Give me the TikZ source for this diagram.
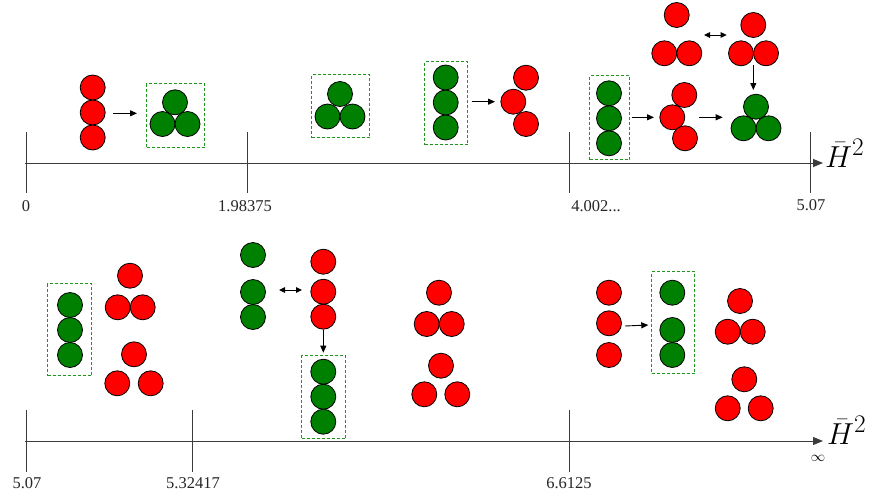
\documentclass[tikz,border=0pt]{standalone}
\usepackage{fontspec}
\setmainfont{Liberation Serif}
\usetikzlibrary{arrows.meta}
\definecolor{dgreen}{RGB}{0,128,0}
\definecolor{boxgreen}{RGB}{30,150,30}
\definecolor{axisgray}{RGB}{60,60,60}
\newcommand\myball[4]{\node[#1] (#2) at (#3,#4) {};}
\newcommand\mybox[5]{\node[gbox,minimum width=#4pt-#2pt,minimum height=#5pt-#3pt] (#1) at ({(#2+#4)/2},{(#3+#5)/2}) {};}
\newcommand\hbartwo{\scalebox{1.22}{$\bar{H}^2$}}
\begin{document}
\begin{tikzpicture}[x=1pt,y=-1pt,
 rball/.style={circle,draw=black,fill=red,minimum size=25pt,inner sep=0pt,line width=0.8pt},
 gball/.style={rball,fill=dgreen},
 gbox/.style={draw=boxgreen,dash pattern=on 3pt off 2pt,line width=1.3pt,inner sep=0pt,rectangle},
 conn/.style={-{Triangle[length=7pt,width=6pt]},line width=0.9pt},
 dconn/.style={{Triangle[length=6pt,width=5.5pt]}-{Triangle[length=6pt,width=5.5pt]},line width=0.9pt},
 axisline/.style={axisgray,line width=1pt,-{Triangle[length=10pt,width=8pt]}},
 tickline/.style={axisgray,line width=1pt},
 lab/.style={font=\fontsize{16.5}{18}\selectfont,inner sep=0pt,text=black!85},
 hlab/.style={font=\fontsize{24.88}{28}\selectfont,inner sep=0pt,anchor=base west}
]
\useasboundingbox[fill=white] (0,0) rectangle (869,496);

% ===== top axis =====
\coordinate (ta0) at (25,163);
\coordinate (ta1) at (823,163);
\draw[axisline] (ta0) -- (ta1);
\foreach \x/\n in {26/t1,247/t2,569/t3,810/t4}{
  \coordinate (\n top) at (\x,132);
  \coordinate (\n bot) at (\x,193);
  \draw[tickline] (\n top) -- (\n bot);
}
\node[lab] (l0) at (26,206) {0};
\node[lab] (l1) at (245,206) {1.98375};
\node[lab] (l2) at (596,206) {4.002...};
\node[lab] (l3) at (811,205) {5.07};
\node[hlab] (h1) at (825,167) {\hbartwo};

% group 1
\myball{rball}{a1}{92.7}{87.5}
\myball{rball}{a2}{92.7}{112.5}
\myball{rball}{a3}{92.7}{137.5}
\coordinate (c1s) at (113,113.3); \coordinate (c1e) at (137,113.3);
\draw[conn] (c1s) -- (c1e);
\mybox{b1}{146.5}{83.5}{204.5}{147.5}
\myball{gball}{b1a}{175}{102.3}
\myball{gball}{b1b}{162.5}{124}
\myball{gball}{b1c}{187.5}{124}

% group 2
\mybox{b2}{311.5}{74.5}{369.5}{137.5}
\myball{gball}{b2a}{340}{94}
\myball{gball}{b2b}{327.5}{116.5}
\myball{gball}{b2c}{352.5}{116.5}

% group 3
\mybox{b3}{424.5}{61.5}{467.5}{144.5}
\myball{gball}{b3a}{445.7}{77.5}
\myball{gball}{b3b}{445.7}{102.5}
\myball{gball}{b3c}{445.7}{127.5}
\coordinate (c2s) at (471.7,101.7); \coordinate (c2e) at (495,101.7);
\draw[conn] (c2s) -- (c2e);
\myball{rball}{d1}{526}{77.7}
\myball{rball}{d2}{513.3}{101.7}
\myball{rball}{d3}{526}{124}

% group 4
\myball{rball}{e1}{676.7}{15}
\myball{rball}{e2}{664.3}{53.3}
\myball{rball}{e3}{689.3}{53.3}
\coordinate (c3s) at (704,35); \coordinate (c3e) at (726.7,35);
\draw[dconn] (c3s) -- (c3e);
\myball{rball}{f1}{753.3}{25}
\myball{rball}{f2}{741}{53.3}
\myball{rball}{f3}{766}{53.3}
\coordinate (c4s) at (753.3,65); \coordinate (c4e) at (753.3,90);
\draw[conn] (c4s) -- (c4e);
\mybox{b4}{589.5}{75.5}{629.5}{159.5}
\myball{gball}{b4a}{609}{93.3}
\myball{gball}{b4b}{609}{118.3}
\myball{gball}{b4c}{609}{143.3}
\coordinate (c5s) at (631.7,117.3); \coordinate (c5e) at (654,117.3);
\draw[conn] (c5s) -- (c5e);
\myball{rball}{g1}{684.3}{95}
\myball{rball}{g2}{672.3}{117.3}
\myball{rball}{g3}{685}{138.3}
\coordinate (c6s) at (699.3,117.3); \coordinate (c6e) at (722.7,117.3);
\draw[conn] (c6s) -- (c6e);
\myball{gball}{h1a}{756}{106.7}
\myball{gball}{h1b}{743.5}{128.3}
\myball{gball}{h1c}{768.5}{128.3}

% ===== bottom axis =====
\coordinate (ba0) at (25,441);
\coordinate (ba1) at (823,441);
\draw[axisline] (ba0) -- (ba1);
\foreach \x/\n in {26/u1,192.3/u2,569.3/u3}{
  \coordinate (\n top) at (\x,410);
  \coordinate (\n bot) at (\x,472);
  \draw[tickline] (\n top) -- (\n bot);
}
\node[lab] (m0) at (27,483) {5.07};
\node[lab] (m1) at (193,483) {5.32417};
\node[lab] (m2) at (569,483) {6.6125};
\node[inner sep=0pt,font=\fontsize{14.4}{16}\selectfont] (inf) at (818,458) {$\infty$};
\node[hlab] (h2) at (827,444) {\hbartwo};

% group 5
\mybox{c1}{47.5}{283.5}{91.5}{375.5}
\myball{gball}{c1a}{70}{305}
\myball{gball}{c1b}{70}{330}
\myball{gball}{c1c}{70}{355}
\myball{rball}{p1}{130}{275.7}
\myball{rball}{p2}{117.7}{307.3}
\myball{rball}{p3}{142.7}{307.3}
\myball{rball}{q1}{134}{354.3}
\myball{rball}{q2}{117.3}{383.3}
\myball{rball}{q3}{150.7}{383.3}

% group 6
\myball{gball}{s1}{253}{255}
\myball{gball}{s2}{253}{292}
\myball{gball}{s3}{253}{317}
\coordinate (c7s) at (279,290); \coordinate (c7e) at (302,290);
\draw[dconn] (c7s) -- (c7e);
\myball{rball}{v1}{323.3}{261.7}
\myball{rball}{v2}{323.3}{291.7}
\myball{rball}{v3}{323.3}{316.7}
\coordinate (c8s) at (323.3,330); \coordinate (c8e) at (323.3,352.7);
\draw[conn] (c8s) -- (c8e);
\mybox{c2}{301.5}{355.5}{345.5}{438.5}
\myball{gball}{c2a}{323.3}{371.7}
\myball{gball}{c2b}{323.3}{396.7}
\myball{gball}{c2c}{323.3}{421.7}

% group 7
\myball{rball}{w1}{439}{292.7}
\myball{rball}{w2}{426.7}{324}
\myball{rball}{w3}{451.7}{324}
\myball{rball}{x1}{441}{365.7}
\myball{rball}{x2}{424.3}{394.3}
\myball{rball}{x3}{457.3}{394.3}

% group 8
\myball{rball}{y1}{609}{292.7}
\myball{rball}{y2}{609}{323.3}
\myball{rball}{y3}{609}{355}
\coordinate (c9s) at (625,326); \coordinate (c9e) at (648.3,325);
\draw[conn] (c9s) -- (c9e);
\mybox{c3}{651.5}{271.5}{694.5}{373.5}
\myball{gball}{c3a}{672.3}{292.7}
\myball{gball}{c3b}{672.3}{330}
\myball{gball}{c3c}{672.3}{355}
\myball{rball}{z1}{740}{301}
\myball{rball}{z2}{727.7}{331.7}
\myball{rball}{z3}{752.7}{331.7}
\myball{rball}{k1}{744.3}{379.3}
\myball{rball}{k2}{727.7}{408.3}
\myball{rball}{k3}{760.7}{408.3}
\end{tikzpicture}
\end{document}
